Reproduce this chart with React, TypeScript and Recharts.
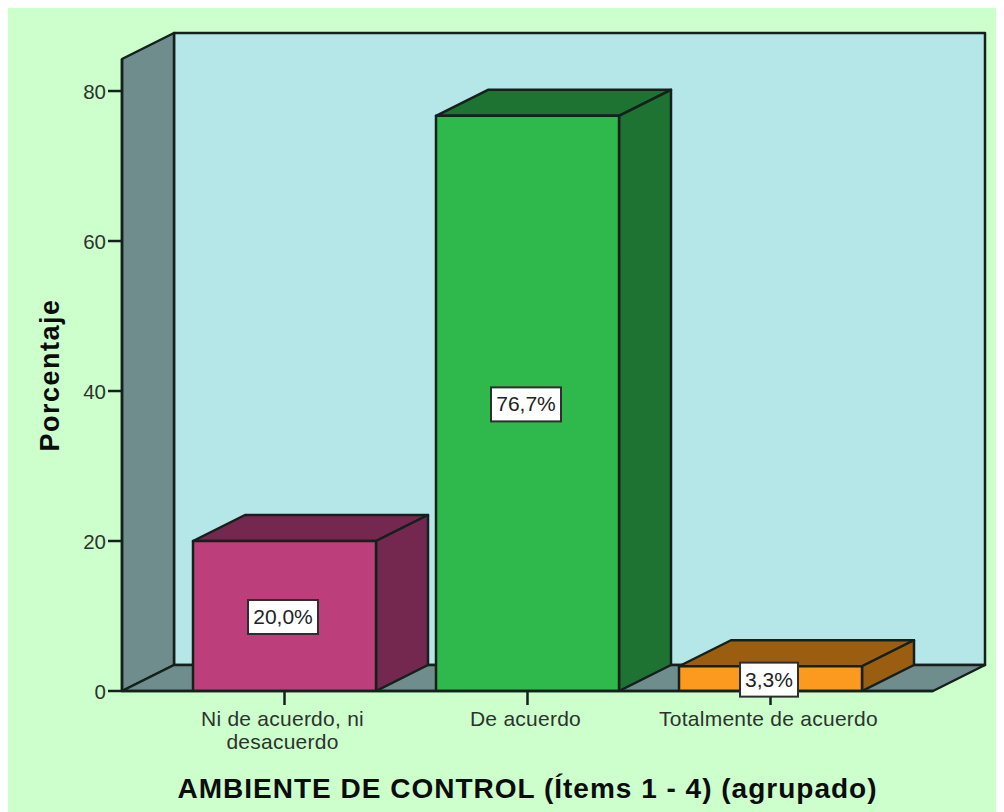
import React from "react";
import { BarChart, Bar, XAxis, YAxis, ReferenceArea, LabelList } from "recharts";

const categories = ["Ni de acuerdo, ni desacuerdo", "De acuerdo", "Totalmente de acuerdo"];
const tickLines = [["Ni de acuerdo, ni", "desacuerdo"], ["De acuerdo"], ["Totalmente de acuerdo"]];
const percentages = [20.0, 76.7, 3.3];
const valueLabels = ["20,0%", "76,7%", "3,3%"];
const yTicks = [0, 20, 40, 60, 80];
const frontColors = ["#bc3f7c", "#2fb84b", "#fb9a1e"];
const sideColors = ["#742850", "#1e7232", "#9b5e10"];

const data = categories.map((name, i) => ({ name, value: percentages[i] }));

const DX = 52;
const DY = 26;
const AXIS_PAD = 41;
const INK = "#14201c";
const STROKE = 2.5;
const FONT = "'Liberation Sans', Arial, sans-serif";

function Walls(props: any) {
  const { y, height } = props;
  const x = props.x - AXIS_PAD;
  const width = props.width + AXIS_PAD * 2;
  const b = y + height;
  const r = x + width;
  return (
    <g stroke={INK} strokeWidth={STROKE} strokeLinejoin="round">
      <polygon points={`${x + DX},${y - DY} ${r + DX},${y - DY} ${r + DX},${b - DY} ${x + DX},${b - DY}`} fill="#b5e6e8" />
      <polygon points={`${x},${y} ${x + DX},${y - DY} ${x + DX},${b - DY} ${x},${b}`} fill="#6f8d8d" />
      <polygon points={`${x},${b} ${x + DX},${b - DY} ${r + DX},${b - DY} ${r},${b}`} fill="#6f8d8d" />
    </g>
  );
}

function Bar3D(props: any) {
  const { x, y, width, height, index } = props;
  const r = x + width;
  const b = y + height;
  return (
    <g stroke={INK} strokeWidth={STROKE} strokeLinejoin="round">
      <polygon points={`${x},${y} ${x + DX},${y - DY} ${r + DX},${y - DY} ${r},${y}`} fill={sideColors[index]} />
      <polygon points={`${r},${y} ${r + DX},${y - DY} ${r + DX},${b - DY} ${r},${b}`} fill={sideColors[index]} />
      <rect x={x} y={y} width={width} height={height} fill={frontColors[index]} />
    </g>
  );
}

function ValueLabel(props: any) {
  const { x, y, width, height, index } = props;
  const text = valueLabels[index];
  const w = text.length > 4 ? 70 : 58;
  const h = 34;
  const cx = x + width / 2 - 1.5;
  const cy = y + height / 2 + 1;
  return (
    <g>
      <rect x={cx - w / 2} y={cy - h / 2} width={w} height={h} fill="#ffffff" stroke="#2e2e2e" strokeWidth={2} />
      <text x={cx} y={cy + 7} textAnchor="middle" fontSize={21} fontFamily={FONT} fill="#222">
        {text}
      </text>
    </g>
  );
}

function CategoryTick(props: any) {
  const { x, y, index } = props;
  return (
    <text x={x} textAnchor="middle" fontSize={21} letterSpacing={0.25} fontFamily={FONT} fill="#2c332c">
      {tickLines[index].map((line, i) => (
        <tspan key={line} x={x - 2} y={y + 19 + i * 23}>
          {line}
        </tspan>
      ))}
    </text>
  );
}

export default function App() {
  return (
    <div style={{ width: 996, height: 804, background: "#ccffcc" }}>
      <style>{"html,body{overflow:hidden}"}</style>
      <BarChart
        width={996}
        height={804}
        data={data}
        margin={{ top: 51, right: 71, bottom: 0, left: 54 }}
        style={{ fontFamily: FONT }}
      >
        <ReferenceArea shape={<Walls />} ifOverflow="visible" />
        <XAxis
          dataKey="name"
          height={121}
          padding={{ left: AXIS_PAD, right: AXIS_PAD }}
          interval={0}
          tickSize={14}
          tickLine={{ stroke: INK, strokeWidth: STROKE }}
          axisLine={{ stroke: INK, strokeWidth: STROKE }}
          tick={<CategoryTick />}
          label={{
            value: "AMBIENTE DE CONTROL (Ítems 1 - 4) (agrupado)",
            position: "insideBottom",
            offset: 14,
            fontSize: 28,
            fontWeight: 700,
            fill: "#0c0c0c",
            fontFamily: FONT,
            style: { letterSpacing: 1 },
          }}
        />
        <YAxis
          width={60}
          type="number"
          domain={[0, 84.27]}
          ticks={yTicks}
          allowDataOverflow
          tickSize={14}
          tickMargin={2}
          tickLine={{ stroke: INK, strokeWidth: STROKE }}
          axisLine={{ stroke: INK, strokeWidth: STROKE }}
          tick={{ fontSize: 20.5, fill: "#2c332c", fontFamily: FONT, dy: 1 }}
          label={{
            value: "Porcentaje",
            angle: -90,
            position: "insideLeft",
            offset: -13,
            fontSize: 27,
            fontWeight: 700,
            fill: "#0c0c0c",
            fontFamily: FONT,
            style: { textAnchor: "middle", letterSpacing: 1.5 },
          }}
        />
        <Bar dataKey="value" barSize={183} isAnimationActive={false} shape={<Bar3D />}>
          <LabelList dataKey="value" content={<ValueLabel />} />
        </Bar>
      </BarChart>
    </div>
  );
}
